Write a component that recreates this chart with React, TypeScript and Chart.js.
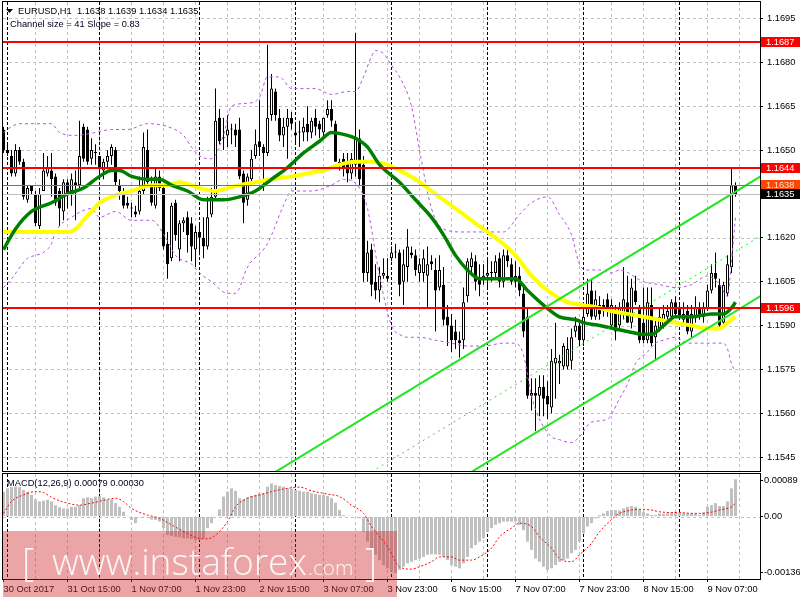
import React, { useEffect, useRef } from "react";
import { Chart, registerables } from "chart.js";
Chart.register(...registerables);

// ---------- DATA (EURUSD H1) ----------
const opens = [
1.1657,1.1650,1.1648,1.1642,1.1650,1.1646,1.1633,1.1638,1.1635,1.1624,
1.1636,1.1642,1.1643,1.1641,1.1636,1.1629,1.1639,1.1636,1.1639,1.1638,
1.1658,1.1657,1.1647,1.1649,1.1648,1.1643,1.1646,1.1648,1.1650,1.1638,
1.1635,1.1632,1.1630,1.1629,1.1629,1.1636,1.1650,1.1638,1.1631,1.1641,
1.1637,1.1618,1.1613,1.1632,1.1616,1.1625,1.1627,1.1625,1.1616,1.1622,
1.1620,1.1617,1.1628,1.1634,1.1661,1.1654,1.1655,1.1657,1.1657,1.1657,
1.1642,1.1633,1.1640,1.1648,1.1653,1.1651,1.1649,1.1662,1.1670,1.1661,
1.1655,1.1658,1.1661,1.1656,1.1656,1.1656,1.1659,1.1656,1.1661,1.1659,
1.1656,1.1662,1.1664,1.1659,1.1645,1.1647,1.1646,1.1642,1.1645,1.1654,
1.1645,1.1608,1.1616,1.1605,1.1602,1.1607,1.1607,1.1613,1.1615,1.1615,
1.1605,1.1610,1.1615,1.1614,1.1608,1.1608,1.1607,1.1612,1.1609,1.1603,
1.1604,1.1593,1.1590,1.1588,1.1585,1.1585,1.1600,1.1610,1.1612,1.1606,
1.1606,1.1607,1.1608,1.1608,1.1613,1.1605,1.1614,1.1611,1.1607,1.1607,
1.1601,1.1593,1.1566,1.1567,1.1566,1.1569,1.1566,1.1562,1.1577,1.1577,
1.1576,1.1576,1.1578,1.1588,1.1590,1.1585,1.1594,1.1602,1.1593,1.1597,
1.1597,1.1599,1.1590,1.1595,1.1590,1.1594,1.1598,1.1591,1.1602,1.1596,
1.1591,1.1585,1.1597,1.1586,1.1589,1.1590,1.1593,1.1593,1.1598,1.1596,
1.1592,1.1595,1.1588,1.1593,1.1596,1.1593,1.1596,1.1602,1.1608,1.1604,
1.1591,1.1601,1.1610,1.1638];

const highs = [
1.1658,1.1652,1.1650,1.1652,1.1651,1.1647,1.1638,1.1638,1.1636,1.1637,
1.1649,1.1648,1.1649,1.1642,1.1637,1.1640,1.1640,1.1642,1.1643,1.1660,
1.1659,1.1658,1.1654,1.1652,1.1648,1.1647,1.1650,1.1652,1.1651,1.1640,
1.1637,1.1634,1.1632,1.1631,1.1641,1.1656,1.1657,1.1641,1.1644,1.1643,
1.1638,1.1622,1.1632,1.1633,1.1626,1.1627,1.1629,1.1627,1.1624,1.1625,
1.1627,1.1634,1.1637,1.1671,1.1664,1.1661,1.1662,1.1659,1.1659,1.1661,
1.1643,1.1642,1.1650,1.1657,1.1667,1.1652,1.1686,1.1676,1.1671,1.1664,
1.1661,1.1664,1.1663,1.1659,1.1660,1.1661,1.1665,1.1661,1.1664,1.1660,
1.1661,1.1667,1.1667,1.1660,1.1647,1.1649,1.1649,1.1649,1.1690,1.1657,
1.1648,1.1619,1.1618,1.1611,1.1610,1.1613,1.1613,1.1617,1.1618,1.1616,
1.1616,1.1623,1.1617,1.1616,1.1613,1.1616,1.1617,1.1614,1.1613,1.1614,
1.1610,1.1597,1.1594,1.1592,1.1588,1.1603,1.1613,1.1615,1.1614,1.1611,
1.1611,1.1613,1.1612,1.1614,1.1615,1.1616,1.1616,1.1613,1.1612,1.1610,
1.1604,1.1596,1.1572,1.1572,1.1573,1.1573,1.1571,1.1582,1.1591,1.1580,
1.1584,1.1586,1.1589,1.1593,1.1592,1.1597,1.1606,1.1606,1.1602,1.1600,
1.1599,1.1601,1.1599,1.1597,1.1598,1.1610,1.1607,1.1606,1.1607,1.1597,
1.1603,1.1603,1.1603,1.1592,1.1596,1.1597,1.1597,1.1599,1.1600,1.1598,
1.1598,1.1597,1.1597,1.1600,1.1598,1.1598,1.1604,1.1611,1.1615,1.1606,
1.1605,1.1614,1.1644,1.1639];

const lows = [
1.1649,1.1648,1.1641,1.1641,1.1645,1.1633,1.1632,1.1635,1.1624,1.1623,
1.1636,1.1641,1.1634,1.1631,1.1624,1.1626,1.1630,1.1631,1.1626,1.1637,
1.1646,1.1645,1.1645,1.1645,1.1642,1.1640,1.1644,1.1645,1.1638,1.1633,
1.1630,1.1630,1.1627,1.1627,1.1628,1.1635,1.1638,1.1631,1.1630,1.1636,
1.1616,1.1606,1.1612,1.1619,1.1612,1.1622,1.1615,1.1612,1.1610,1.1614,
1.1613,1.1616,1.1627,1.1633,1.1652,1.1650,1.1651,1.1652,1.1651,1.1640,
1.1625,1.1631,1.1638,1.1647,1.1648,1.1636,1.1648,1.1660,1.1660,1.1653,
1.1651,1.1647,1.1657,1.1652,1.1651,1.1653,1.1653,1.1654,1.1655,1.1654,
1.1654,1.1661,1.1658,1.1646,1.1643,1.1641,1.1639,1.1640,1.1641,1.1638,
1.1605,1.1605,1.1600,1.1599,1.1598,1.1606,1.1605,1.1612,1.1613,1.1600,
1.1597,1.1605,1.1613,1.1607,1.1605,1.1605,1.1596,1.1609,1.1588,1.1602,
1.1590,1.1583,1.1581,1.1582,1.1579,1.1582,1.1598,1.1608,1.1602,1.1600,
1.1604,1.1603,1.1605,1.1606,1.1603,1.1603,1.1610,1.1604,1.1603,1.1600,
1.1586,1.1565,1.1561,1.1554,1.1559,1.1559,1.1558,1.1560,1.1565,1.1570,
1.1575,1.1575,1.1575,1.1586,1.1583,1.1583,1.1593,1.1592,1.1592,1.1592,
1.1593,1.1593,1.1589,1.1585,1.1589,1.1592,1.1591,1.1589,1.1597,1.1584,
1.1584,1.1584,1.1583,1.1578,1.1588,1.1589,1.1591,1.1592,1.1593,1.1592,
1.1590,1.1587,1.1586,1.1591,1.1592,1.1591,1.1595,1.1601,1.1603,1.1589,
1.1590,1.1600,1.1608,1.1634];

const closes = [
1.1650,1.1649,1.1642,1.1650,1.1646,1.1634,1.1637,1.1636,1.1625,1.1635,
1.1643,1.1644,1.1640,1.1632,1.1630,1.1639,1.1635,1.1640,1.1638,1.1648,
1.1647,1.1646,1.1650,1.1649,1.1644,1.1646,1.1648,1.1651,1.1639,1.1636,
1.1631,1.1631,1.1630,1.1628,1.1636,1.1651,1.1639,1.1632,1.1641,1.1637,
1.1617,1.1611,1.1631,1.1621,1.1625,1.1626,1.1621,1.1617,1.1622,1.1620,
1.1617,1.1627,1.1634,1.1660,1.1653,1.1654,1.1657,1.1657,1.1655,1.1641,
1.1632,1.1641,1.1647,1.1652,1.1651,1.1649,1.1661,1.1671,1.1662,1.1655,
1.1658,1.1661,1.1659,1.1655,1.1656,1.1658,1.1656,1.1660,1.1658,1.1657,
1.1661,1.1664,1.1660,1.1646,1.1646,1.1644,1.1642,1.1647,1.1654,1.1640,
1.1608,1.1615,1.1604,1.1602,1.1607,1.1608,1.1606,1.1615,1.1615,1.1604,
1.1611,1.1617,1.1614,1.1609,1.1611,1.1613,1.1611,1.1611,1.1602,1.1609,
1.1592,1.1590,1.1585,1.1585,1.1584,1.1598,1.1612,1.1613,1.1605,1.1604,
1.1607,1.1608,1.1608,1.1612,1.1605,1.1614,1.1612,1.1605,1.1605,1.1602,
1.1588,1.1566,1.1567,1.1566,1.1569,1.1565,1.1563,1.1578,1.1579,1.1578,
1.1583,1.1582,1.1586,1.1590,1.1585,1.1593,1.1601,1.1593,1.1599,1.1594,
1.1595,1.1596,1.1597,1.1588,1.1596,1.1599,1.1591,1.1603,1.1598,1.1585,
1.1585,1.1598,1.1584,1.1590,1.1593,1.1594,1.1595,1.1598,1.1594,1.1593,
1.1594,1.1588,1.1594,1.1596,1.1593,1.1596,1.1602,1.1608,1.1606,1.1590,
1.1604,1.1611,1.1638,1.1635];

// MACD histogram (12,26,9)
const macdHist = [
0.00061,0.00069,0.00072,0.00073,0.00072,0.00065,0.00061,0.00053,0.00042,0.00037,
0.00039,0.00041,0.00037,0.00028,0.00023,0.00020,0.00020,0.00024,0.00024,0.00028,
0.00045,0.00047,0.00045,0.00049,0.00050,0.00047,0.00041,0.00042,0.00033,0.00024,
0.00012,0.00002,-0.00008,-0.00016,-0.00002,0.00002,-0.00002,-0.00007,-0.00008,-0.00012,
-0.00028,-0.00045,-0.00047,-0.00049,-0.00050,-0.00053,-0.00053,-0.00055,-0.00057,-0.00057,
-0.00053,-0.00028,-0.00016,0.00000,0.00018,0.00049,0.00061,0.00069,0.00063,0.00045,
0.00042,0.00047,0.00050,0.00053,0.00057,0.00057,0.00073,0.00081,0.00077,0.00075,
0.00073,0.00069,0.00067,0.00065,0.00063,0.00061,0.00061,0.00057,0.00055,0.00053,
0.00053,0.00050,0.00045,0.00034,0.00016,0.00004,0.00002,0.00002,0.00000,-0.00004,
-0.00037,-0.00061,-0.00077,-0.00093,-0.00106,-0.00118,-0.00126,-0.00134,-0.00138,-0.00130,
-0.00122,-0.00114,-0.00110,-0.00106,-0.00102,-0.00098,-0.00093,-0.00092,-0.00092,-0.00093,
-0.00098,-0.00106,-0.00118,-0.00122,-0.00126,-0.00114,-0.00098,-0.00077,-0.00069,-0.00061,
-0.00053,-0.00037,-0.00028,-0.00020,-0.00016,-0.00012,-0.00012,-0.00012,-0.00012,-0.00020,
-0.00033,-0.00061,-0.00081,-0.00102,-0.00110,-0.00122,-0.00130,-0.00126,-0.00118,-0.00110,
-0.00106,-0.00102,-0.00089,-0.00081,-0.00061,-0.00041,-0.00024,-0.00016,-0.00004,0.00004,
0.00008,0.00014,0.00016,0.00016,0.00015,0.00020,0.00024,0.00026,0.00024,0.00018,
0.00012,0.00008,0.00004,0.00004,0.00008,0.00007,0.00008,0.00010,0.00012,0.00010,
0.00008,0.00007,0.00008,0.00007,0.00004,0.00010,0.00024,0.00028,0.00033,0.00026,
0.00026,0.00037,0.00069,0.00091];

// indicator lines: [bar index, value]
const maYellow = [[0,1.1622],[8,1.1622],[16,1.1622],[18,1.1623],[20,1.1626],[22,1.1629],[24,1.1632],[27,1.1634],[29,1.1635],[32,1.1636],[37,1.1638],[41,1.1638],[44,1.1639],[47,1.1638],[49,1.1637],[53,1.1636],[56,1.1637],[59,1.1638],[63,1.1639],[67,1.1640],[72,1.1641],[76,1.1642],[80,1.1643],[84,1.1645],[88,1.1646],[92,1.1646],[96,1.1645],[99,1.1643],[103,1.1640],[107,1.1636],[112,1.1631],[116,1.1627],[120,1.1623],[124,1.1619],[128,1.1614],[132,1.1607],[137,1.1601],[141,1.1598],[145,1.1597],[149,1.1596],[152,1.1595],[156,1.1594],[160,1.1593],[164,1.1592],[168,1.1591],[172,1.1590],[176,1.1589],[179,1.1589],[181,1.1591],[183,1.1593]];
const maGreen = [[0,1.1616],[3,1.1623],[7,1.1629],[12,1.1632],[16,1.1635],[20,1.1637],[24,1.1641],[27,1.1643],[29,1.1643],[32,1.1641],[36,1.1640],[39,1.1640],[42,1.1638],[46,1.1636],[50,1.1633],[55,1.1633],[59,1.1634],[63,1.1636],[67,1.1640],[71,1.1644],[75,1.1649],[79,1.1653],[82,1.1656],[86,1.1655],[88,1.1654],[91,1.1651],[94,1.1645],[99,1.1639],[103,1.1633],[107,1.1627],[110,1.1621],[113,1.1614],[116,1.1609],[119,1.1606],[124,1.1606],[128,1.1606],[131,1.1602],[135,1.1597],[139,1.1593],[143,1.1592],[145,1.1591],[149,1.1590],[156,1.1588],[160,1.1587],[162,1.1587],[165,1.1590],[168,1.1593],[172,1.1593],[177,1.1594],[180,1.1594],[182,1.1596],[183,1.1598]];
const bbUpper = [[0,1.1656],[2,1.1658],[4,1.1659],[8,1.1659],[12,1.1659],[14,1.1656],[18,1.1655],[23,1.1656],[27,1.1657],[31,1.1657],[36,1.1659],[41,1.1658],[45,1.1655],[47,1.1651],[49,1.1648],[52,1.1647],[55,1.1655],[57,1.1665],[61,1.1666],[64,1.1668],[66,1.1675],[69,1.1675],[72,1.1671],[75,1.1671],[78,1.1671],[82,1.1669],[86,1.1670],[88,1.1670],[90,1.1675],[92,1.1682],[93,1.1684],[95,1.1683],[97,1.1679],[99,1.1675],[102,1.1665],[104,1.1650],[107,1.1630],[110,1.1623],[115,1.1622],[120,1.1622],[125,1.1622],[129,1.1628],[132,1.1632],[136,1.1634],[139,1.1628],[142,1.1621],[144,1.1611],[146,1.1609],[149,1.1609],[152,1.1608],[154,1.1609],[160,1.1605],[164,1.1604],[168,1.1603],[172,1.1604],[176,1.1607],[179,1.1604],[181,1.1600],[182,1.1612],[183,1.1627]];
const bbLower = [[0,1.1603],[2,1.1606],[6,1.1613],[8,1.1614],[10,1.1615],[12,1.1618],[13,1.1622],[17,1.1627],[22,1.1630],[24,1.1627],[28,1.1629],[32,1.1626],[37,1.1626],[41,1.1619],[43,1.1614],[47,1.1611],[49,1.1608],[52,1.1605],[56,1.1601],[58,1.1601],[61,1.1610],[66,1.1618],[70,1.1631],[72,1.1636],[77,1.1636],[82,1.1638],[85,1.1640],[89,1.1637],[91,1.1630],[94,1.1607],[97,1.1590],[99,1.1587],[101,1.1586],[104,1.1586],[108,1.1585],[112,1.1584],[116,1.1583],[120,1.1583],[125,1.1584],[128,1.1584],[130,1.1580],[132,1.1566],[134,1.1558],[137,1.1552],[139,1.1551],[142,1.1550],[144,1.1552],[147,1.1557],[151,1.1558],[154,1.1565],[156,1.1570],[158,1.1577],[161,1.1581],[163,1.1584],[165,1.1585],[168,1.1586],[171,1.1584],[175,1.1584],[180,1.1584],[181,1.1582],[182,1.1577],[183,1.1574]];
const macdSignal = [[0,0.00008],[2,0.00037],[5,0.00053],[8,0.00061],[10,0.00059],[12,0.00047],[16,0.00033],[19,0.00028],[22,0.00033],[26,0.00042],[28,0.00045],[30,0.00037],[32,0.00020],[36,0.00004],[39,-0.00004],[42,-0.00020],[46,-0.00041],[49,-0.00053],[51,-0.00054],[53,-0.00045],[56,-0.00012],[58,0.00024],[61,0.00045],[64,0.00053],[67,0.00061],[71,0.00069],[74,0.00072],[77,0.00063],[81,0.00055],[84,0.00049],[87,0.00028],[90,0.00008],[92,-0.00024],[96,-0.00073],[99,-0.00122],[102,-0.00128],[104,-0.00122],[107,-0.00110],[109,-0.00098],[112,-0.00098],[114,-0.00106],[117,-0.00106],[119,-0.00098],[122,-0.00077],[124,-0.00049],[127,-0.00028],[129,-0.00016],[132,-0.00024],[134,-0.00049],[137,-0.00077],[139,-0.00102],[142,-0.00110],[144,-0.00093],[147,-0.00065],[149,-0.00037],[152,-0.00007],[154,0.00008],[157,0.00016],[159,0.00018],[162,0.00016],[164,0.00012],[167,0.00010],[169,0.00010],[172,0.00008],[174,0.00008],[177,0.00011],[179,0.00016],[182,0.00024],[183,0.00033]];

// equidistant channel (two anchor points per line)
const channelUpper = [[68,1.15400],[190,1.16416]];
const channelMid = [[92,1.15400],[190,1.16212]];
const channelLower = [[117,1.15400],[190,1.16007]];

// horizontal levels
const resistanceLevels = [1.1687, 1.1644, 1.1596];
const askLevel = 1.1638;
const bidLevel = 1.1635;

// axes
const priceTicks = [1.1545,1.1560,1.1575,1.1590,1.1605,1.1620,1.1635,1.1650,1.1665,1.1680,1.1695];
const macdTicks = [0.00089, 0, -0.00136];
const tickLabels: [number, string][] = [[0,"30 Oct 2017"],[16,"31 Oct 15:00"],[32,"1 Nov 07:00"],[48,"1 Nov 23:00"],[64,"2 Nov 15:00"],[80,"3 Nov 07:00"],[96,"3 Nov 23:00"],[112,"6 Nov 15:00"],[128,"7 Nov 07:00"],[144,"7 Nov 23:00"],[160,"8 Nov 15:00"],[176,"9 Nov 07:00"]];
const gridBars = [8,16,24,32,40,48,56,64,72,80,88,96,104,112,120,128,136,144,152,160,168,176,184];
const separatorBars = [1,24,49,73,97,121,145,169];

const symbolText = "EURUSD,H1";
const channelText = "Channel size = 41 Slope = 0.83";
const macdText = "MACD(12,26,9) 0.00079 0.00030";

// ---------- CONFIG ----------
const X_MIN = -0.125;
const X_MAX = 189.125;
const FONT = '"Liberation Sans", Arial, sans-serif';
const FS = 9.3;

const pts = (arr: number[][]) => arr.map(([x, y]) => ({ x, y }));

function dashedV(ctx: any, xs: number[], xScale: any, top: number, bottom: number) {
  xs.forEach((b) => {
    const px = Math.floor(xScale.getPixelForValue(b)) + 0.5;
    ctx.beginPath();
    ctx.moveTo(px, top);
    ctx.lineTo(px, bottom);
    ctx.stroke();
  });
}

const noPad = (s: any) => {
  s.paddingTop = 0;
  s.paddingBottom = 0;
  s.paddingLeft = 0;
  s.paddingRight = 0;
};

const mainPlugin = {
  id: "mainDeco",
  beforeDatasetsDraw(chart: any) {
    const { ctx, chartArea: a, scales } = chart;
    const x = scales.x, y = scales.y;
    ctx.save();
    ctx.lineWidth = 1;
    ctx.strokeStyle = "#c0c0c0";
    ctx.setLineDash([3, 3]);
    priceTicks.forEach((v) => {
      const py = Math.round(y.getPixelForValue(v)) + 0.5;
      ctx.beginPath();
      ctx.moveTo(a.left, py);
      ctx.lineTo(a.right, py);
      ctx.stroke();
    });
    dashedV(ctx, gridBars, x, a.top, a.bottom);
    ctx.strokeStyle = "#000";
    ctx.setLineDash([3, 2]);
    dashedV(ctx, separatorBars, x, a.top, a.bottom);
    ctx.restore();
  },
  afterDatasetsDraw(chart: any) {
    const { ctx, chartArea: a, scales } = chart;
    const y = scales.y;
    ctx.save();
    const hl = (v: number, color: string, w: number) => {
      const py = w === 2 ? Math.round(y.getPixelForValue(v)) : Math.round(y.getPixelForValue(v)) + 0.5;
      ctx.strokeStyle = color;
      ctx.lineWidth = w;
      ctx.beginPath();
      ctx.moveTo(a.left, py);
      ctx.lineTo(a.right, py);
      ctx.stroke();
    };
    hl(bidLevel, "#c0c0c0", 1);
    hl(askLevel, "#ff4500", 1);
    resistanceLevels.forEach((v) => hl(v, "#ff0000", 2));
    ctx.strokeStyle = "#000";
    ctx.lineWidth = 1;
    ctx.strokeRect(2.5, 1.5, 758, 470);
    ctx.restore();
  },
  afterDraw(chart: any) {
    const { ctx, scales } = chart;
    const y = scales.y;
    ctx.save();
    ctx.font = `${FS}px ${FONT}`;
    ctx.textBaseline = "middle";
    ctx.textAlign = "left";
    const box = (v: number, bg: string, fg: string) => {
      const py = Math.round(y.getPixelForValue(v));
      ctx.fillStyle = bg;
      ctx.fillRect(761, py - 5, 39, 10);
      ctx.fillStyle = fg;
      ctx.fillText(v.toFixed(4), 766, py + 0.5);
    };
    resistanceLevels.forEach((v) => box(v, "#ff0000", "#ffffff"));
    box(askLevel, "#ff4500", "#ffe0d0");
    box(bidLevel, "#000000", "#ffffff");

    // header
    const n = closes.length - 1;
    ctx.fillStyle = "#000";
    ctx.textBaseline = "alphabetic";
    ctx.beginPath();
    ctx.moveTo(6, 9);
    ctx.lineTo(13, 9);
    ctx.lineTo(9.5, 13);
    ctx.closePath();
    ctx.fill();
    ctx.fillText(
      `${symbolText}  ${opens[n].toFixed(4)} ${highs[n].toFixed(4)} ${lows[n].toFixed(4)} ${closes[n].toFixed(4)}`,
      18, 14
    );
    ctx.fillStyle = "#000020";
    ctx.fillText(channelText, 10, 27);
    ctx.restore();
  },
};

const macdPlugin = {
  id: "macdDeco",
  beforeDatasetsDraw(chart: any) {
    const { ctx, chartArea: a, scales } = chart;
    const x = scales.x, y = scales.y;
    ctx.save();
    ctx.lineWidth = 1;
    ctx.strokeStyle = "#c0c0c0";
    ctx.setLineDash([3, 3]);
    const py = Math.round(y.getPixelForValue(0)) + 0.5;
    ctx.beginPath();
    ctx.moveTo(a.left, py);
    ctx.lineTo(a.right, py);
    ctx.stroke();
    dashedV(ctx, gridBars, x, a.top, a.bottom);
    ctx.strokeStyle = "#000";
    ctx.setLineDash([3, 2]);
    dashedV(ctx, separatorBars, x, a.top, a.bottom);
    ctx.restore();
  },
  afterDatasetsDraw(chart: any) {
    const { ctx } = chart;
    ctx.save();
    ctx.strokeStyle = "#000";
    ctx.lineWidth = 1;
    ctx.strokeRect(2.5, 0.5, 758, 106);
    ctx.restore();
  },
  afterDraw(chart: any) {
    const { ctx } = chart;
    ctx.save();
    ctx.font = `${FS}px ${FONT}`;
    ctx.fillStyle = "#000020";
    ctx.textAlign = "left";
    ctx.textBaseline = "alphabetic";
    ctx.fillText(macdText, 7, 13);

    // watermark
    ctx.fillStyle = "rgba(210,40,45,0.42)";
    ctx.fillRect(3, 58, 394, 66);
    ctx.fillStyle = "rgba(255,255,255,0.9)";
    let size = 40;
    ctx.font = `300 ${size}px "Open Sans", Lato, sans-serif`;
    const w = ctx.measureText("www.instaforex").width;
    size = (size * 255) / w;
    ctx.font = `300 ${size}px "Open Sans", Lato, sans-serif`;
    ctx.fillText("www.instaforex", 52, 102);
    const small = size * 0.56;
    ctx.font = `300 ${small}px "Open Sans", Lato, sans-serif`;
    ctx.fillText(".com", 308, 102);
    ctx.font = `200 38px "Open Sans", Lato, sans-serif`;
    ctx.fillText("[", 22, 103);
    ctx.fillText("]", 365, 103);
    ctx.restore();
  },
};

export default function App() {
  const mainRef = useRef<HTMLCanvasElement>(null);
  const macdRef = useRef<HTMLCanvasElement>(null);

  useEffect(() => {
    const idx = closes.map((_, i) => i);
    const wickData = idx.map((i) => ({ x: i, y: [lows[i], highs[i]] }));
    const bodyData = idx.map((i) => ({ x: i, y: [opens[i], closes[i]] }));
    const bodyColors = idx.map((i) => (closes[i] >= opens[i] ? "#ffffff" : "#000000"));
    const lime = "#22e622";

    const lineDs = (data: number[][], color: string, width: number, order: number, dash: number[] = []) => ({
      type: "line",
      data: pts(data),
      borderColor: color,
      borderWidth: width,
      borderDash: dash,
      pointRadius: 0,
      cubicInterpolationMode: "monotone",
      fill: false,
      order,
    });

    const main = new Chart(mainRef.current as HTMLCanvasElement, {
      type: "bar",
      data: {
        datasets: [
          { type: "bar", data: wickData, backgroundColor: "#000", borderWidth: 0, barThickness: 1, grouped: false, inflateAmount: 0, order: 10 },
          { type: "bar", data: bodyData, backgroundColor: bodyColors, borderColor: "#000", borderWidth: 1, borderSkipped: false, barThickness: 3, grouped: false, minBarLength: 1, inflateAmount: 0, order: 9 },
          lineDs(bbUpper, "#b455dc", 1, 6, [3, 3]),
          lineDs(bbLower, "#b455dc", 1, 6, [3, 3]),
          lineDs(maYellow, "#ffff00", 4, 5),
          lineDs(maGreen, "#008000", 3.5, 4),
          lineDs(channelUpper, lime, 2, 3),
          lineDs(channelLower, lime, 2, 3),
          lineDs(channelMid, lime, 1, 3, [2, 4]),
        ] as any,
      },
      options: {
        responsive: false,
        animation: false,
        events: [],
        layout: { padding: { left: 3, top: 2, right: 0, bottom: 2 }, autoPadding: false } as any,
        plugins: { legend: { display: false }, tooltip: { enabled: false } },
        scales: {
          x: { type: "linear", min: X_MIN, max: X_MAX, display: false, offset: false, grid: { offset: false }, afterFit: noPad },
          y: {
            position: "right",
            min: 1.15403,
            max: 1.17006,
            afterFit: (s: any) => { s.width = 40; noPad(s); },
            afterBuildTicks: (s: any) => { s.ticks = priceTicks.map((v) => ({ value: v })); },
            ticks: { callback: (v: any) => Number(v).toFixed(4), color: "#000", font: { family: FONT, size: FS }, padding: 4, autoSkip: false },
            grid: { drawOnChartArea: false, drawTicks: true, tickLength: 3, color: "#000" },
            border: { display: false },
          },
        },
      } as any,
      plugins: [mainPlugin],
    } as any);

    const labelMap = new Map(tickLabels.map(([b, s]) => [b, s]));
    const macd = new Chart(macdRef.current as HTMLCanvasElement, {
      type: "bar",
      data: {
        datasets: [
          { type: "bar", data: idx.map((i) => ({ x: i, y: macdHist[i] })), backgroundColor: "#c0c0c0", borderWidth: 0, barThickness: 3, grouped: false, inflateAmount: 0, order: 2 },
          lineDs(macdSignal, "#ff0000", 1, 1, [2, 2]),
        ] as any,
      },
      options: {
        responsive: false,
        animation: false,
        events: [],
        layout: { padding: { left: 3, top: 1, right: 0, bottom: 0 }, autoPadding: false } as any,
        plugins: { legend: { display: false }, tooltip: { enabled: false } },
        scales: {
          x: {
            type: "linear",
            min: X_MIN,
            max: X_MAX,
            offset: false,
            position: "bottom",
            afterFit: (s: any) => { s.height = 21; noPad(s); },
            afterBuildTicks: (s: any) => { s.ticks = tickLabels.map(([b]) => ({ value: b })); },
            ticks: { callback: (v: any) => labelMap.get(Number(v)) || "", align: "start", autoSkip: false, maxRotation: 0, minRotation: 0, color: "#000", font: { family: FONT, size: FS }, padding: 2 },
            grid: { drawOnChartArea: false, drawTicks: true, tickLength: 3, color: "#000", offset: false },
            border: { display: false },
          },
          y: {
            position: "right",
            min: -0.00152,
            max: 0.00104,
            afterFit: (s: any) => { s.width = 40; noPad(s); },
            afterBuildTicks: (s: any) => { s.ticks = macdTicks.map((v) => ({ value: v })); },
            ticks: { callback: (v: any) => (Number(v) === 0 ? "0.00" : Number(v).toFixed(5)), color: "#000", font: { family: FONT, size: FS }, padding: 1, autoSkip: false },
            grid: { drawOnChartArea: false, drawTicks: true, tickLength: 3, color: "#000" },
            border: { display: false },
          },
        },
      } as any,
      plugins: [macdPlugin],
    } as any);

    return () => {
      main.destroy();
      macd.destroy();
    };
  }, []);

  return (
    <div style={{ position: "absolute", left: 0, top: 0, width: 800, height: 600, background: "#ffffff", overflow: "hidden" }}>
      <canvas ref={mainRef} width={800} height={473} style={{ position: "absolute", left: 0, top: 0 }} />
      <canvas ref={macdRef} width={800} height={127} style={{ position: "absolute", left: 0, top: 473 }} />
    </div>
  );
}
